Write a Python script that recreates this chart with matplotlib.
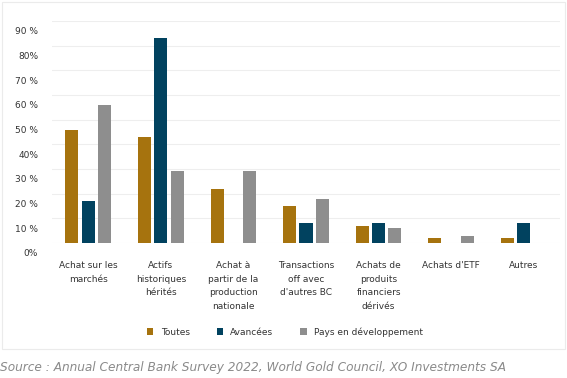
import numpy as np
import matplotlib.pyplot as plt
import matplotlib.transforms as mtransforms
from matplotlib.patches import Rectangle

plt.rcParams['font.family'] = ['DejaVu Sans']

# Données (en %)
categories = ["Achat sur les\nmarchés", "Actifs\nhistoriques\nhérités",
              "Achat à\npartir de la\nproduction\nnationale",
              "Transactions\noff avec\nd'autres BC",
              "Achats de\nproduits\nfinanciers\ndérivés",
              "Achats d'ETF", "Autres"]
toutes = [46, 43, 22, 15, 7, 2, 2]
avancees = [17, 83, 0, 8, 8, 0, 8]
pays_dev = [56, 29, 29, 18, 6, 3, 0]
series_names = ["Toutes", "Avancées", "Pays en développement"]
ytick_labels = ["0%", "10 %", "20 %", "30 %", "40%", "50 %", "60 %", "70 %", "80%", "90 %"]

colors = ["#A6730E", "#01425F", "#8E8E8E"]

fig = plt.figure(figsize=(5.67, 3.78), dpi=100)

# cadre du graphique
fig.patches.append(Rectangle((2/567, 1 - 349/378), 563/567, 347/378,
                             transform=fig.transFigure, fill=False,
                             edgecolor="#EBEBEB", linewidth=0.8))

ax = fig.add_axes([52/567, 1 - 243/378, 508/567, 222/378])

x = np.arange(len(categories))
w = 0.18
step = 0.225
for i, (vals, name) in enumerate(zip([toutes, avancees, pays_dev], series_names)):
    ax.bar(x + (i - 1) * step, vals, width=w, color=colors[i], label=name, zorder=3)

ax.set_xlim(-0.5, len(categories) - 0.5)
ax.set_ylim(0, 90)
ax.set_yticks(np.arange(0, 100, 10))
ax.set_yticklabels(ytick_labels, fontsize=6.5, color="#333333")
ax.set_xticks(x)
ax.set_xticklabels(categories, fontsize=6.5, color="#333333", linespacing=1.65, va="top")
ax.tick_params(axis="both", length=0)
ax.tick_params(axis="y", pad=10)
ax.tick_params(axis="x", pad=13)

# décalage des étiquettes de l'axe y (comme dans l'original)
offset = mtransforms.ScaledTranslation(0, -10/100, fig.dpi_scale_trans)
for lab in ax.get_yticklabels():
    lab.set_transform(lab.get_transform() + offset)

ax.grid(axis="y", color="#EEEEEE", linewidth=0.8, zorder=0)
for s in ax.spines.values():
    s.set_visible(False)

fig.legend(loc="center", bbox_to_anchor=(285/567, 1 - 332/378), ncol=3, frameon=False,
           fontsize=6.5, handlelength=0.7, handleheight=0.7, columnspacing=3.0,
           handletextpad=0.8, labelcolor="#333333")

fig.text(0, 1 - 368/378, "Source : Annual Central Bank Survey 2022, World Gold Council, XO Investments SA",
         fontsize=8.75, style="italic", color="#8A8A8A", va="center", ha="left")

fig.savefig("out.png", dpi=100)
